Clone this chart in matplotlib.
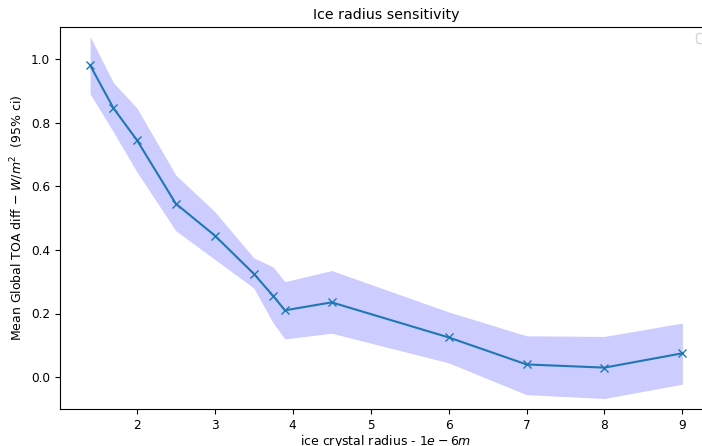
import numpy as np
import matplotlib
matplotlib.use('Agg')
import matplotlib.pyplot as plt

radius = [1.4, 1.7, 2.0, 2.5, 3.0, 3.5, 3.75, 3.9, 4.5, 6.0, 7.0, 8.0, 9.0]
mean_diff = [0.98, 0.845, 0.745, 0.545, 0.445, 0.325, 0.255, 0.21, 0.235, 0.125, 0.04, 0.03, 0.075]
ci_upper = [1.07, 0.925, 0.846, 0.635, 0.52, 0.375, 0.346, 0.30, 0.335, 0.205, 0.13, 0.128, 0.17]
ci_lower = [0.89, 0.77, 0.645, 0.46, 0.37, 0.28, 0.17, 0.12, 0.138, 0.045, -0.055, -0.067, -0.022]

plt.rcParams['font.size'] = 8.7

fig = plt.figure(figsize=(7.02, 4.46), dpi=100)
# axes run slightly past the right edge, as in the cropped original
ax = fig.add_axes([60 / 702, (446 - 409) / 446, (712 - 60) / 702, (409 - 27) / 446])

ax.fill_between(radius, ci_lower, ci_upper, color='blue', alpha=0.2, linewidth=0)
ax.plot(radius, mean_diff, marker='x', color='tab:blue')

ax.set_xlim(1.014, 9.38)
ax.set_ylim(-0.1, 1.1)
ax.set_xticks([2, 3, 4, 5, 6, 7, 8, 9])
ax.set_yticks([0.0, 0.2, 0.4, 0.6, 0.8, 1.0])

ax.set_title('Ice radius sensitivity', fontsize=10.2)
ax.set_xlabel('ice crystal radius - $1e-6m$', fontsize=9, labelpad=1)
ax.set_ylabel('Mean Global TOA diff $-$ $W/m^2$  (95% ci)', fontsize=9)
ax.legend(loc='upper right')

plt.savefig('out.png', dpi=100)
plt.close()
